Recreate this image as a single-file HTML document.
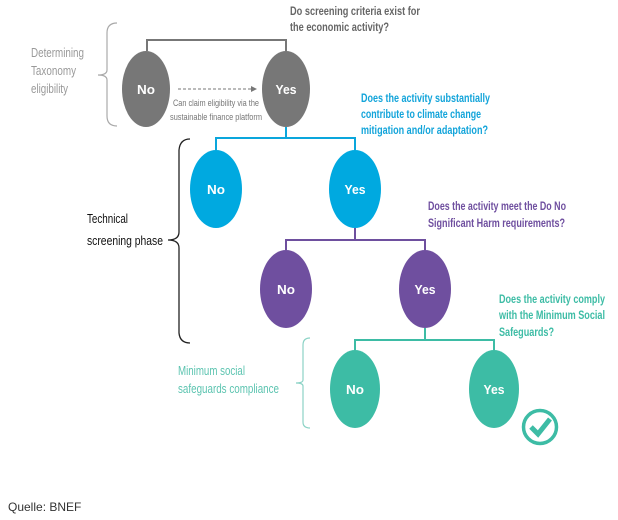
<!DOCTYPE html>
<html><head><meta charset="utf-8"><style>
html,body{margin:0;padding:0;background:#fff;width:618px;height:520px;overflow:hidden}
svg{display:block}
text{font-family:"Liberation Sans",sans-serif}
</style></head><body>
<svg width="618" height="520" viewBox="0 0 618 520" xmlns="http://www.w3.org/2000/svg">
<!-- gray level -->
<path d="M147 51 V40 H286 V51" fill="none" stroke="#777" stroke-width="2"/>
<ellipse cx="146" cy="89" rx="24" ry="38" fill="#777"/>
<ellipse cx="286" cy="89" rx="24" ry="38" fill="#777"/>
<text x="146" y="94" fill="#fff" font-size="13" font-weight="bold" text-anchor="middle" textLength="18" lengthAdjust="spacingAndGlyphs">No</text>
<text x="286" y="94" fill="#fff" font-size="13" font-weight="bold" text-anchor="middle" textLength="21" lengthAdjust="spacingAndGlyphs">Yes</text>
<line x1="178" y1="89" x2="252" y2="89" stroke="#777" stroke-width="1" stroke-dasharray="3,2"/>
<path d="M251 86 L257 89 L251 92 Z" fill="#777"/>
<text x="173" y="106" fill="#777" font-size="9" textLength="86" lengthAdjust="spacingAndGlyphs">Can claim eligibility via the</text>
<text x="170" y="120" fill="#777" font-size="9" textLength="92" lengthAdjust="spacingAndGlyphs">sustainable finance platform</text>
<text x="290" y="15" fill="#666" font-size="12" font-weight="bold" textLength="130" lengthAdjust="spacingAndGlyphs">Do screening criteria exist for</text>
<text x="290" y="31" fill="#666" font-size="12" font-weight="bold" textLength="99" lengthAdjust="spacingAndGlyphs">the economic activity?</text>
<text x="31" y="57" fill="#999" font-size="13" textLength="53" lengthAdjust="spacingAndGlyphs">Determining</text>
<text x="31" y="75" fill="#999" font-size="13" textLength="45" lengthAdjust="spacingAndGlyphs">Taxonomy</text>
<text x="31" y="93" fill="#999" font-size="13" textLength="37" lengthAdjust="spacingAndGlyphs">eligibility</text>
<path d="M117 23 Q107 23 107 33 V70 Q107 75 98 75 Q107 75 107 80 V116 Q107 126 117 126" fill="none" stroke="#aaa" stroke-width="1.2"/>
<!-- blue level -->
<path d="M286 127 V138 M216 150 V138 H355 V150" fill="none" stroke="#0aa6dc" stroke-width="2"/>
<ellipse cx="216" cy="189" rx="26" ry="39" fill="#00a9e0"/>
<ellipse cx="355" cy="189" rx="26" ry="39" fill="#00a9e0"/>
<text x="216" y="194" fill="#fff" font-size="13" font-weight="bold" text-anchor="middle" textLength="18" lengthAdjust="spacingAndGlyphs">No</text>
<text x="355" y="194" fill="#fff" font-size="13" font-weight="bold" text-anchor="middle" textLength="21" lengthAdjust="spacingAndGlyphs">Yes</text>
<text x="361" y="102" fill="#12a4da" font-size="12" font-weight="bold" textLength="129" lengthAdjust="spacingAndGlyphs">Does the activity substantially</text>
<text x="361" y="118" fill="#12a4da" font-size="12" font-weight="bold" textLength="120" lengthAdjust="spacingAndGlyphs">contribute to climate change</text>
<text x="361" y="134" fill="#12a4da" font-size="12" font-weight="bold" textLength="127" lengthAdjust="spacingAndGlyphs">mitigation and/or adaptation?</text>
<text x="87" y="223" fill="#111" font-size="13" textLength="41" lengthAdjust="spacingAndGlyphs">Technical</text>
<text x="87" y="245" fill="#111" font-size="13" textLength="76" lengthAdjust="spacingAndGlyphs">screening phase</text>
<path d="M190 139 Q180 139 179 150 V232 Q179 240 168 240 Q179 240 179 248 V333 Q180 343 190 343" fill="none" stroke="#222" stroke-width="1.3"/>
<!-- purple level -->
<path d="M355 228 V240 M286 250 V240 H425 V250" fill="none" stroke="#6e4f9e" stroke-width="2"/>
<ellipse cx="286" cy="289" rx="26" ry="39" fill="#6f4f9f"/>
<ellipse cx="425" cy="289" rx="26" ry="39" fill="#6f4f9f"/>
<text x="286" y="294" fill="#fff" font-size="13" font-weight="bold" text-anchor="middle" textLength="18" lengthAdjust="spacingAndGlyphs">No</text>
<text x="425" y="294" fill="#fff" font-size="13" font-weight="bold" text-anchor="middle" textLength="21" lengthAdjust="spacingAndGlyphs">Yes</text>
<text x="428" y="210" fill="#6f4f9f" font-size="12" font-weight="bold" textLength="138" lengthAdjust="spacingAndGlyphs">Does the activity meet the Do No</text>
<text x="428" y="227" fill="#6f4f9f" font-size="12" font-weight="bold" textLength="137" lengthAdjust="spacingAndGlyphs">Significant Harm requirements?</text>
<!-- teal level -->
<path d="M425 328 V340 M355 350 V340 H494 V350" fill="none" stroke="#3dbca5" stroke-width="2"/>
<ellipse cx="355" cy="389" rx="25" ry="39" fill="#3dbca5"/>
<ellipse cx="494" cy="389" rx="25" ry="39" fill="#3dbca5"/>
<text x="355" y="394" fill="#fff" font-size="13" font-weight="bold" text-anchor="middle" textLength="18" lengthAdjust="spacingAndGlyphs">No</text>
<text x="494" y="394" fill="#fff" font-size="13" font-weight="bold" text-anchor="middle" textLength="21" lengthAdjust="spacingAndGlyphs">Yes</text>
<text x="499" y="303" fill="#3dbca5" font-size="12" font-weight="bold" textLength="106" lengthAdjust="spacingAndGlyphs">Does the activity comply</text>
<text x="499" y="319" fill="#3dbca5" font-size="12" font-weight="bold" textLength="106" lengthAdjust="spacingAndGlyphs">with the Minimum Social</text>
<text x="499" y="336" fill="#3dbca5" font-size="12" font-weight="bold" textLength="55" lengthAdjust="spacingAndGlyphs">Safeguards?</text>
<text x="178" y="375" fill="#5cc4b0" font-size="12.5" textLength="67" lengthAdjust="spacingAndGlyphs">Minimum social</text>
<text x="178" y="393" fill="#5cc4b0" font-size="12.5" textLength="101" lengthAdjust="spacingAndGlyphs">safeguards compliance</text>
<path d="M310 338 Q303 338 303 345 V380 Q303 383 296 383 Q303 383 303 386 V422 Q303 428 310 428" fill="none" stroke="#8cd3c6" stroke-width="1.2"/>
<circle cx="540" cy="427" r="16.5" fill="none" stroke="#3dbca5" stroke-width="3.5"/>
<path d="M531 427 L538 434 L550 419" fill="none" stroke="#3dbca5" stroke-width="5"/>
<text x="8" y="511" fill="#333" font-size="12">Quelle: BNEF</text>
</svg>
</body></html>
